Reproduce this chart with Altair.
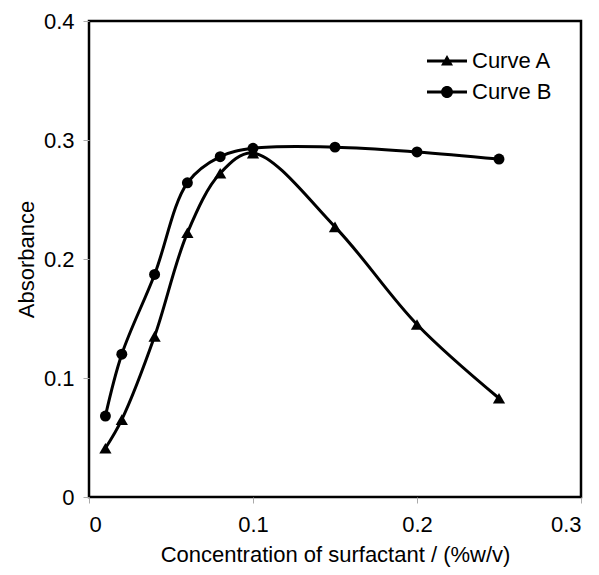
import altair as alt
import pandas as pd

conc = [0.01, 0.02, 0.04, 0.06, 0.08, 0.10, 0.15, 0.20, 0.25]
curve_a = [0.041, 0.065, 0.135, 0.222, 0.272, 0.289, 0.227, 0.145, 0.083]
curve_b = [0.068, 0.120, 0.187, 0.264, 0.286, 0.293, 0.294, 0.290, 0.284]
series_names = ["Curve A", "Curve B"]

rows = []
for name, vals in zip(series_names, [curve_a, curve_b]):
    for i, (c, v) in enumerate(zip(conc, vals)):
        rows.append({"series": name, "conc": c, "abs": v, "order": i})
df = pd.DataFrame(rows)

FONT = "Liberation Sans"

x = alt.X("conc:Q", scale=alt.Scale(domain=[0, 0.3], nice=False),
          axis=alt.Axis(values=[0, 0.1, 0.2, 0.3], format="~g",
                        title="Concentration of surfactant / (%w/v)"))
y = alt.Y("abs:Q", scale=alt.Scale(domain=[0, 0.4], nice=False),
          axis=alt.Axis(values=[0, 0.1, 0.2, 0.3, 0.4], format="~g",
                        title="Absorbance"))

base = alt.Chart(df).encode(x=x, y=y)

lines = base.mark_line(color="black", strokeWidth=3, interpolate="catmull-rom").encode(
    detail="series:N", order="order:Q")

points = base.mark_point(filled=True, color="black", opacity=1).encode(
    shape=alt.Shape("series:N", scale=alt.Scale(domain=series_names, range=["triangle-up", "circle"]),
                    legend=None),
    size=alt.Size("series:N", scale=alt.Scale(domain=series_names, range=[150, 120]), legend=None),
)

# legend symbols: a short line with the marker (filled shapes, same winding)
tri_path = "M-1,-0.075H1V0.075H-1ZM0,-0.3L0.3,0.22L-0.3,0.22Z"
cir_path = "M-1,-0.075H1V0.075H-1ZM-0.3,0A0.3,0.3 0 1,1 0.3,0A0.3,0.3 0 1,1 -0.3,0Z"

legend_layer = base.mark_point(filled=True, color="black", opacity=0).encode(
    shape=alt.Shape("series:N",
                    scale=alt.Scale(domain=series_names, range=[tri_path, cir_path]),
                    legend=alt.Legend(title=None, orient="none", legendX=338, legendY=20,
                                      symbolSize=1600, symbolOpacity=1,
                                      symbolFillColor="black", symbolStrokeColor="black",
                                      symbolStrokeWidth=0, labelFontSize=22, labelFont=FONT,
                                      labelColor="black", rowPadding=-10, padding=0,
                                      labelOffset=5, symbolLimit=0)),
)

chart = alt.layer(lines, points, legend_layer).resolve_scale(shape="independent", size="independent").properties(
    width=492, height=476,
    autosize=alt.AutoSizeParams(type="none"),
    padding={"left": 81, "top": 13, "right": 10, "bottom": 70},
).configure_view(
    stroke="black", strokeWidth=2.5
).configure_axis(
    grid=False, domain=False, tickColor="#aaaaaa", tickSize=6, tickWidth=1,
    labelFont=FONT, labelFontSize=22, labelColor="black",
    titleFont=FONT, titleFontSize=22, titleFontWeight="normal", titleColor="black",
).configure_axisX(
    labelPadding=11, titlePadding=9
).configure_axisY(
    labelPadding=9, titlePadding=5
)

chart.save("out.html", embed_options={"renderer": "svg", "actions": False})
